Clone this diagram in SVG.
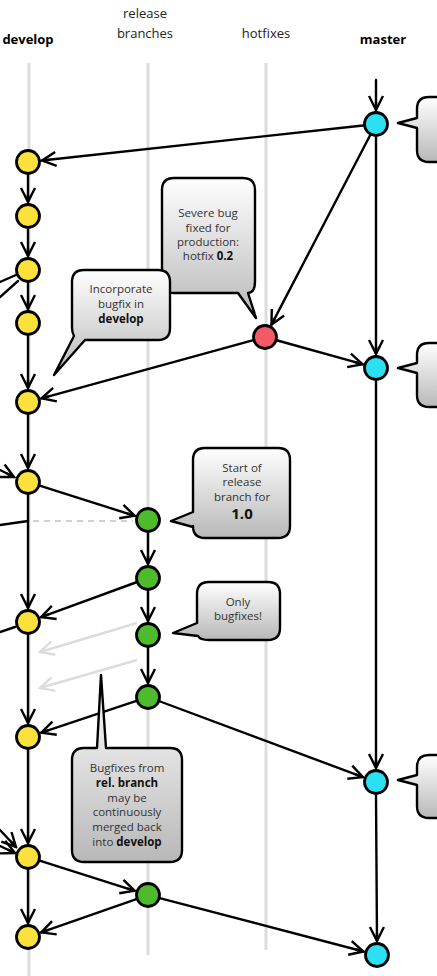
<svg xmlns="http://www.w3.org/2000/svg" width="437" height="976" viewBox="0 0 437 976">
<defs>
<linearGradient id="boxg" x1="0" y1="0" x2="0" y2="1">
<stop offset="0" stop-color="#ffffff"/>
<stop offset="1" stop-color="#b8b8b8"/>
</linearGradient>
<marker id="arr" markerUnits="userSpaceOnUse" viewBox="0 0 18 18" refX="16" refY="9" markerWidth="18" markerHeight="18" orient="auto">
<path d="M2,2 L16,9 L2,16 M8,9 L16,9" fill="none" stroke="#000" stroke-width="2.4" stroke-linejoin="miter"/>
</marker>
<marker id="garr" markerUnits="userSpaceOnUse" viewBox="0 0 18 18" refX="16" refY="9" markerWidth="18" markerHeight="18" orient="auto">
<path d="M2,2 L16,9 L2,16" fill="none" stroke="#dcdcdc" stroke-width="2.4"/>
</marker>
</defs>
<style>
.hdr{font-family:"Open Sans","Liberation Sans",sans-serif;font-size:13px;fill:#222;text-anchor:middle}
.hb{font-weight:bold;fill:#000}
.lane{stroke:#dcdcdc;stroke-width:3;fill:none}
.e{stroke:#000;stroke-width:2.4;fill:none;stroke-linecap:round}
.ea{stroke:#000;stroke-width:2.4;fill:none;stroke-linecap:round;marker-end:url(#arr)}
.ga{stroke:#dcdcdc;stroke-width:2.4;fill:none;marker-end:url(#garr)}
.dash{stroke:#d0d0d0;stroke-width:2;stroke-dasharray:6 5;fill:none}
.n{stroke:#000;stroke-width:2.8}
.dev{fill:#fbe13b}
.rel{fill:#4dbb2b}
.hot{fill:#f25a66}
.mas{fill:#2ae0f2}
.box{fill:url(#boxg);stroke:#000;stroke-width:2.4;stroke-linejoin:round}
.t{font-family:"Open Sans","Liberation Sans",sans-serif;font-size:11.5px;fill:#333;text-anchor:middle}
.tb{font-weight:bold;fill:#111}
</style>
<rect width="437" height="976" fill="#fff"/>
<g id="headers">
<text class="hdr hb" x="28" y="44">develop</text>
<text class="hdr" x="145" y="18">release</text>
<text class="hdr" x="145" y="38">branches</text>
<text class="hdr" x="266" y="38">hotfixes</text>
<text class="hdr hb" x="383" y="44">master</text>
</g>
<g id="lanes">
<line class="lane" x1="29" y1="63" x2="29" y2="976"/>
<line class="lane" x1="148" y1="63" x2="148" y2="955"/>
<line class="lane" x1="266" y1="63" x2="266" y2="950"/>
</g>
<g id="connectors">
<line class="ea" x1="376" y1="80" x2="376" y2="110"/>
<line class="ea" x1="363" y1="125.5" x2="42" y2="160.5"/>
<line class="ea" x1="370" y1="135.5" x2="271.5" y2="324.6"/>
<line class="ea" x1="376" y1="137" x2="376" y2="354"/>
<line class="ea" x1="277.5" y1="340.5" x2="362.5" y2="364.2"/>
<line class="ea" x1="252.5" y1="340.4" x2="41.5" y2="398.3"/>
<line class="ea" x1="28" y1="175" x2="28" y2="202"/>
<line class="ea" x1="28" y1="229" x2="28" y2="256"/>
<line class="ea" x1="28" y1="283" x2="28" y2="309"/>
<line class="ea" x1="28" y1="336" x2="28" y2="388"/>
<line class="ea" x1="28" y1="415" x2="28" y2="468"/>
<line class="ea" x1="28" y1="495" x2="28" y2="608"/>
<line class="ea" x1="28" y1="635" x2="28" y2="723"/>
<line class="ea" x1="28" y1="750" x2="28" y2="843"/>
<line class="ea" x1="28" y1="870" x2="28" y2="923"/>
<line class="e" x1="0" y1="282" x2="16" y2="275"/>
<line class="e" x1="0" y1="297" x2="18" y2="281"/>
<line class="ea" x1="0" y1="470" x2="14" y2="477"/>
<line class="e" x1="0" y1="525" x2="28" y2="521"/>
<line class="dash" x1="33" y1="521" x2="133" y2="521"/>
<line class="e" x1="15" y1="627" x2="0" y2="632"/>
<line class="ea" x1="0" y1="830" x2="16" y2="847"/>
<line class="ea" x1="0" y1="846" x2="15" y2="853"/>
<line class="ea" x1="40.4" y1="485.9" x2="134.7" y2="515.8"/>
<line class="ea" x1="148" y1="533" x2="148" y2="564"/>
<line class="ea" x1="148" y1="591" x2="148" y2="621"/>
<line class="ea" x1="148" y1="648" x2="148" y2="683"/>
<line class="ea" x1="135.8" y1="582.5" x2="41.1" y2="617.2"/>
<line class="ga" x1="137" y1="623" x2="40" y2="652"/>
<line class="ga" x1="137" y1="660" x2="40" y2="688"/>
<line class="ea" x1="135.7" y1="701.1" x2="41.3" y2="732.6"/>
<line class="ea" x1="160.2" y1="701.5" x2="362.9" y2="777.1"/>
<line class="ea" x1="376" y1="381" x2="376" y2="768"/>
<line class="ea" x1="376" y1="795" x2="377" y2="941"/>
<line class="ea" x1="40.4" y1="860.9" x2="134.7" y2="890.8"/>
<line class="ea" x1="135.7" y1="899.3" x2="41.2" y2="932.4"/>
<line class="ea" x1="160.6" y1="898.3" x2="363.5" y2="951.5"/>
</g>
<g id="develop-nodes">
<circle id="d1" class="n dev" cx="28" cy="162" r="11.5"/>
<circle id="d2" class="n dev" cx="28" cy="216" r="11.5"/>
<circle id="d3" class="n dev" cx="28" cy="270" r="11.5"/>
<circle id="d4" class="n dev" cx="28" cy="323" r="11.5"/>
<circle id="d5" class="n dev" cx="28" cy="402" r="11.5"/>
<circle id="d6" class="n dev" cx="28" cy="482" r="11.5"/>
<circle id="d7" class="n dev" cx="28" cy="622" r="11.5"/>
<circle id="d8" class="n dev" cx="28" cy="737" r="11.5"/>
<circle id="d9" class="n dev" cx="28" cy="857" r="11.5"/>
<circle id="d10" class="n dev" cx="28" cy="937" r="11.5"/>
</g>
<g id="release-nodes">
<circle id="r1" class="n rel" cx="148" cy="520" r="11.5"/>
<circle id="r2" class="n rel" cx="148" cy="578" r="11.5"/>
<circle id="r3" class="n rel" cx="148" cy="635" r="11.5"/>
<circle id="r4" class="n rel" cx="148" cy="697" r="11.5"/>
<circle id="r5" class="n rel" cx="148" cy="895" r="11.5"/>
</g>
<g id="hotfix-node">
<circle id="h1" class="n hot" cx="265" cy="337" r="11.5"/>
</g>
<g id="master-nodes">
<circle id="m1" class="n mas" cx="376" cy="124" r="11.5"/>
<circle id="m2" class="n mas" cx="376" cy="368" r="11.5"/>
<circle id="m3" class="n mas" cx="376" cy="782" r="11.5"/>
<circle id="m4" class="n mas" cx="377" cy="955" r="11.5"/>
</g>
<g id="callout-hotfix">
<path class="box" d="M174,178 H243 Q255,178 255,190 V281 Q255,293 248,293 L256,318 L238,293 H174 Q162,293 162,281 V190 Q162,178 174,178 Z"/>
<text class="t" x="208" y="217">Severe bug</text>
<text class="t" x="208" y="232">fixed for</text>
<text class="t" x="208" y="246">production:</text>
<text class="t" x="208" y="260">hotfix <tspan class="tb">0.2</tspan></text>
</g>
<g id="callout-incorporate">
<path class="box" d="M84,270 H158 Q170,270 170,282 V328 Q170,340 158,340 H85 L54,375 L74,336 Q72,332 72,328 V282 Q72,270 84,270 Z"/>
<text class="t" x="121" y="293">Incorporate</text>
<text class="t" x="121" y="308">bugfix in</text>
<text class="t tb" x="121" y="323">develop</text>
</g>
<g id="callout-start">
<path class="box" d="M205,448 H278 Q290,448 290,460 V526 Q290,538 278,538 H205 Q193,538 193,526 V527 L171,521 L193,512 V460 Q193,448 205,448 Z"/>
<text class="t" x="242" y="472">Start of</text>
<text class="t" x="242" y="486">release</text>
<text class="t" x="242" y="501">branch for</text>
<text class="t tb" x="242" y="519" style="font-size:15px">1.0</text>
</g>
<g id="callout-only">
<path class="box" d="M209,582 H268 Q280,582 280,594 V628 Q280,640 268,640 H209 Q200,640 198,636 L173,633 L197,623 V594 Q197,582 209,582 Z"/>
<text class="t" x="238" y="606">Only</text>
<text class="t" x="238" y="620">bugfixes!</text>
</g>
<g id="callout-bugfixes">
<path class="box" d="M84,748 H97 L101,675 L106,748 H170 Q182,748 182,760 V850 Q182,862 170,862 H84 Q72,862 72,850 V760 Q72,748 84,748 Z"/>
<text class="t" x="127" y="772">Bugfixes from</text>
<text class="t tb" x="127" y="787">rel. branch</text>
<text class="t" x="127" y="802">may be</text>
<text class="t" x="127" y="816">continuously</text>
<text class="t" x="127" y="831">merged back</text>
<text class="t" x="127" y="846">into <tspan class="tb">develop</tspan></text>
</g>
<g id="callout-master1">
<path class="box" d="M429,97 H460 V162 H429 Q417,162 417,150 V128 L398,123 L417,118 V109 Q417,97 429,97 Z"/>
</g>
<g id="callout-master2">
<path class="box" d="M429,343 H460 V407 H429 Q417,407 417,395 V373 L398,368 L417,363 V355 Q417,343 429,343 Z"/>
</g>
<g id="callout-master3">
<path class="box" d="M429,755 H460 V818 H429 Q417,818 417,806 V785 L398,780 L417,775 V767 Q417,755 429,755 Z"/>
</g>
</svg>
